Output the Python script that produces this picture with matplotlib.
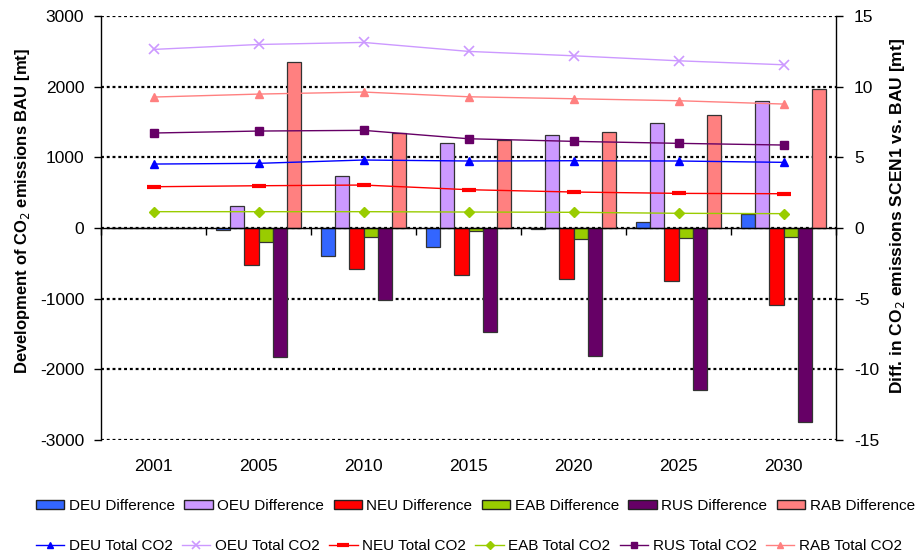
import matplotlib
matplotlib.use('Agg')
import matplotlib.pyplot as plt
import numpy as np
from matplotlib.patches import Patch
from matplotlib.lines import Line2D

plt.rcParams['font.family'] = ['Liberation Sans', 'DejaVu Sans']
plt.rcParams['axes.unicode_minus'] = False

years = ['2001', '2005', '2010', '2015', '2020', '2025', '2030']
regions = ['DEU', 'OEU', 'NEU', 'EAB', 'RUS', 'RAB']

# Differences SCEN1 vs BAU (right axis)
deu_diff = [0, -0.15, -1.95, -1.35, -0.05, 0.42, 1.0]
oeu_diff = [0, 1.56, 3.67, 6.0, 6.57, 7.4, 8.98]
neu_diff = [0, -2.62, -2.9, -3.33, -3.6, -3.72, -5.45]
eab_diff = [0, -0.98, -0.62, -0.24, -0.77, -0.72, -0.64]
rus_diff = [0, -9.15, -5.12, -7.36, -9.06, -11.46, -13.72]
rab_diff = [0, 11.73, 6.7, 6.22, 6.78, 8.03, 9.8]

# Total CO2 BAU (left axis)
deu_total = [905, 915, 962, 948, 952, 948, 929]
oeu_total = [2527, 2597, 2626, 2499, 2437, 2366, 2310]
neu_total = [584, 598, 608, 542, 509, 490, 485]
eab_total = [231, 231, 231, 226, 222, 208, 203]
rus_total = [1344, 1372, 1382, 1263, 1226, 1198, 1174]
rab_total = [1853, 1895, 1924, 1857, 1829, 1801, 1754]

diffs = [deu_diff, oeu_diff, neu_diff, eab_diff, rus_diff, rab_diff]
totals = [deu_total, oeu_total, neu_total, eab_total, rus_total, rab_total]
bar_colors = ['#3366FF', '#CC99FF', '#FF0000', '#99CC00', '#660066', '#FF8080']
line_colors = ['#0000FF', '#CC99FF', '#FF0000', '#99CC00', '#660066', '#FF8080']
markers = ['^', 'x', '_', 'D', 's', '^']
msizes = [6, 7, 10, 5, 6, 6]
mews = [1, 1.2, 3, 1, 1, 1]

W, H = 922, 557
fig = plt.figure(figsize=(W / 100, H / 100), dpi=100)
left, right, top, bottom = 101, 836, 16, 440
axb = fig.add_axes([left / W, 1 - bottom / H, (right - left) / W, (bottom - top) / H])
axl = axb.twinx()

x = np.arange(len(years))
bw = 0.134
for i, (vals, col) in enumerate(zip(diffs, bar_colors)):
    axb.bar(x + (i - 2.5) * bw, vals, width=bw, color=col, edgecolor='#333333',
            linewidth=0.9, zorder=2, label=f'{regions[i]} Difference')

for i, (vals, col) in enumerate(zip(totals, line_colors)):
    axl.plot(x, vals, color=col, marker=markers[i], markersize=msizes[i],
             markeredgewidth=mews[i], linewidth=1.0, label=f'{regions[i]} Total CO2')

axb.set_xlim(-0.5, len(years) - 0.5)
axb.set_ylim(-15, 15)
axl.set_ylim(-3000, 3000)

# y axes
axb.yaxis.tick_right()
axb.yaxis.set_label_position('right')
axl.yaxis.tick_left()
axl.yaxis.set_label_position('left')
axb.set_yticks(np.arange(-15, 16, 5))
axl.set_yticks(np.arange(-3000, 3001, 1000))
axb.tick_params(axis='y', direction='out', length=5, width=1, labelsize=12.5, pad=8)
axl.tick_params(axis='y', direction='out', length=5, width=1, labelsize=12.5, pad=7)

# gridlines (behind bars)
axb.set_axisbelow(True)
axb.yaxis.grid(True, color='black', linestyle=(0, (1.3, 1.3)), linewidth=1.6)

# spines
for s in ['top', 'left']:
    axb.spines[s].set_visible(False)
axb.spines['right'].set_linewidth(1)
axb.spines['bottom'].set_position(('data', 0))
axb.spines['bottom'].set_linewidth(1)
for s in ['top', 'bottom', 'right']:
    axl.spines[s].set_visible(False)
axl.spines['left'].set_linewidth(1)

# category boundary ticks on zero line
axb.set_xticks(np.arange(-0.5, len(years), 1.0))
axb.tick_params(axis='x', direction='out', length=5, width=1, labelbottom=False)

# category labels at bottom
sec = axb.secondary_xaxis(0)
sec.set_xticks(x, years)
sec.tick_params(axis='x', length=0, labelsize=12.5, pad=14)
sec.spines['bottom'].set_visible(False)

axl.set_ylabel('Development of CO$_2$ emissions BAU [mt]', fontsize=12,
               fontweight='bold')
axl.yaxis.set_label_coords(-0.094, 0.54)
axb.set_ylabel('Diff. in CO$_2$ emissions SCEN1 vs. BAU [mt]', fontsize=12.5,
               fontweight='bold')
axb.yaxis.set_label_coords(1.071, 0.528)

# legends
bar_handles = [Patch(facecolor=c, edgecolor='#222222', linewidth=1) for c in bar_colors]
bar_labels = [f'{r} Difference' for r in regions]
line_handles = [Line2D([], [], color=line_colors[i], marker=markers[i],
                       markersize=msizes[i] * 0.8, markeredgewidth=mews[i], linewidth=1)
                for i in range(len(regions))]
line_labels = [f'{r} Total CO2' for r in regions]

leg1 = fig.legend(bar_handles, bar_labels, ncol=6, loc='center left',
                  bbox_to_anchor=(36 / W, 1 - 506 / H), frameon=False, fontsize=11,
                  handlelength=1.85, handleheight=0.55, handletextpad=0.3,
                  columnspacing=0.62, borderaxespad=0, borderpad=0)
leg2 = fig.legend(line_handles, line_labels, ncol=6, loc='center left',
                  bbox_to_anchor=(36 / W, 1 - 546 / H), frameon=False, fontsize=11,
                  handlelength=1.85, handletextpad=0.3,
                  columnspacing=0.62, borderaxespad=0, borderpad=0)

fig.savefig('out.png', dpi=100)
